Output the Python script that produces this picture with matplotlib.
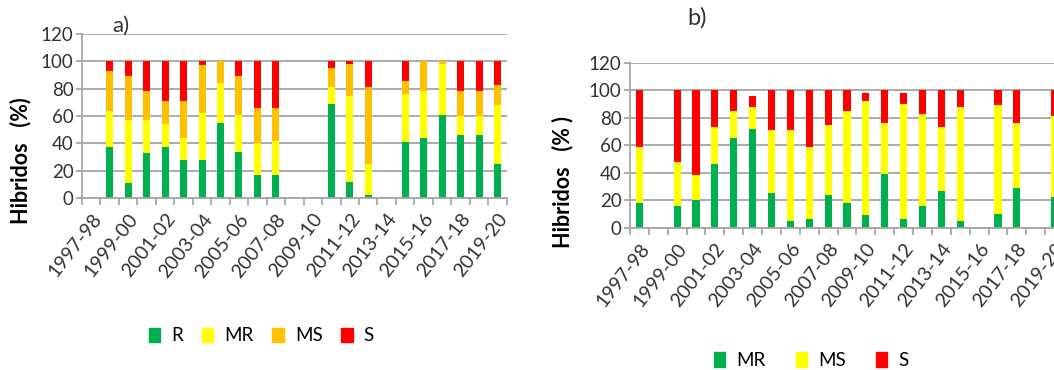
import matplotlib
matplotlib.use('Agg')
import matplotlib.pyplot as plt
from matplotlib.patches import Patch
import numpy as np

plt.rcParams['font.family'] = ['Lato', 'DejaVu Sans']

seasons = ['1997-98', '1998-99', '1999-00', '2000-01', '2001-02', '2002-03',
           '2003-04', '2004-05', '2005-06', '2006-07', '2007-08', '2008-09',
           '2009-10', '2010-11', '2011-12', '2012-13', '2013-14', '2014-15',
           '2015-16', '2016-17', '2017-18', '2018-19', '2019-20']
n = None

# panel a) R / MR / MS / S
a_R  = [n, 37, 11, 33, 37, 28, 28, 55, 34, 17, 17, n, n, 69, 12, 2, n, 41, 44, 61, 46, 46, 25]
a_MR = [n, 27, 46, 24, 17, 16, 34, 29, 27, 23, 25, n, n, 12, 63, 23, n, 35, 34, 37, 14, 14, 43]
a_MS = [n, 29, 32, 21, 17, 27, 35, 16, 28, 26, 24, n, n, 14, 23, 56, n, 10, 22, 2, 18, 18, 15]
a_S  = [n, 7, 11, 22, 29, 29, 3, 0, 11, 34, 34, n, n, 5, 2, 19, n, 14, 0, 0, 22, 22, 17]

# panel b) MR / MS / S
b_MR = [18, n, 16, 20, 46, 65, 72, 25, 5, 6, 24, 18, 9, 39, 6, 16, 27, 5, n, 10, 29, n, 22]
b_MS = [41, n, 32, 18, 27, 20, 16, 46, 66, 53, 51, 67, 83, 37, 84, 67, 46, 83, n, 79, 47, n, 59]
b_S  = [41, n, 52, 62, 27, 15, 8, 29, 29, 41, 25, 15, 6, 24, 8, 17, 27, 12, n, 11, 24, n, 19]

GREEN, YELLOW, ORANGE, RED = '#00B050', '#FFFF00', '#FFC000', '#FF0000'
GRID = '#a6a6a6'
TXT = '#333333'


def arr(v):
    return np.array([np.nan if x is None else x for x in v], dtype=float)


def stack(ax, series, colors):
    x = np.arange(len(seasons))
    bottom = np.zeros(len(seasons))
    for s, c in zip(series, colors):
        h = arr(s)
        ax.bar(x, h, 0.38, bottom=bottom, color=c, linewidth=0)
        bottom = bottom + np.nan_to_num(h)


def style(ax):
    ax.set_xlim(-0.5, len(seasons) - 0.5)
    ax.set_ylim(0, 120)
    ax.set_yticks(range(0, 121, 20))
    ax.yaxis.grid(True, color=GRID, linewidth=1.3)
    ax.set_axisbelow(True)
    for s in ['top', 'right']:
        ax.spines[s].set_visible(False)
    for s in ['left', 'bottom']:
        ax.spines[s].set_color(GRID)
        ax.spines[s].set_linewidth(1.3)
    ax.set_xticks(np.arange(0, len(seasons), 2))
    ax.set_xticklabels(seasons[::2], rotation=52, ha='right',
                       rotation_mode='anchor', fontsize=14, color=TXT)
    ax.tick_params(axis='x', length=0, pad=9)
    ax.set_xticks(np.arange(-0.5, len(seasons), 1), minor=True)
    ax.tick_params(axis='x', which='minor', length=5, color=GRID, width=1.3)
    ax.tick_params(axis='y', length=4, color=GRID, width=1.3, labelsize=13.5,
                   labelcolor=TXT, pad=2)


fig = plt.figure(figsize=(10.54, 3.7), dpi=100)

ax1 = fig.add_axes([0.0778, 0.4649, 0.403, 0.443])
stack(ax1, [a_R, a_MR, a_MS, a_S], [GREEN, YELLOW, ORANGE, RED])
style(ax1)
fig.text(0.115, 0.93, 'a)', fontsize=16, ha='center', va='center', color=TXT)
fig.text(0.019, 0.567, 'Hibridos   (%)', rotation=90, fontsize=15.5,
         fontweight='bold', ha='center', va='center')
fig.legend(handles=[Patch(color=c, label=l) for c, l in
                    zip([GREEN, YELLOW, ORANGE, RED], ['R', 'MR', 'MS', 'S'])],
           loc='center', bbox_to_anchor=(0.248, 0.092), ncol=4, frameon=False,
           fontsize=13.5, handlelength=0.6, handleheight=0.8, columnspacing=1.0,
           handletextpad=0.6)

ax2 = fig.add_axes([0.5977, 0.3846, 0.4118, 0.446])
stack(ax2, [b_MR, b_MS, b_S], [GREEN, YELLOW, RED])
style(ax2)
fig.text(0.661, 0.952, 'b)', fontsize=17, ha='center', va='center', color=TXT)
fig.text(0.534, 0.508, 'Hibridos   (% )', rotation=90, fontsize=15.5,
         fontweight='bold', ha='center', va='center')
fig.legend(handles=[Patch(color=c, label=l) for c, l in
                    zip([GREEN, YELLOW, RED], ['MR', 'MS', 'S'])],
           loc='center', bbox_to_anchor=(0.770, 0.026), ncol=3, frameon=False,
           fontsize=13.5, handlelength=0.6, handleheight=0.8, columnspacing=1.6,
           handletextpad=0.6)

fig.savefig('out.png', dpi=100)
